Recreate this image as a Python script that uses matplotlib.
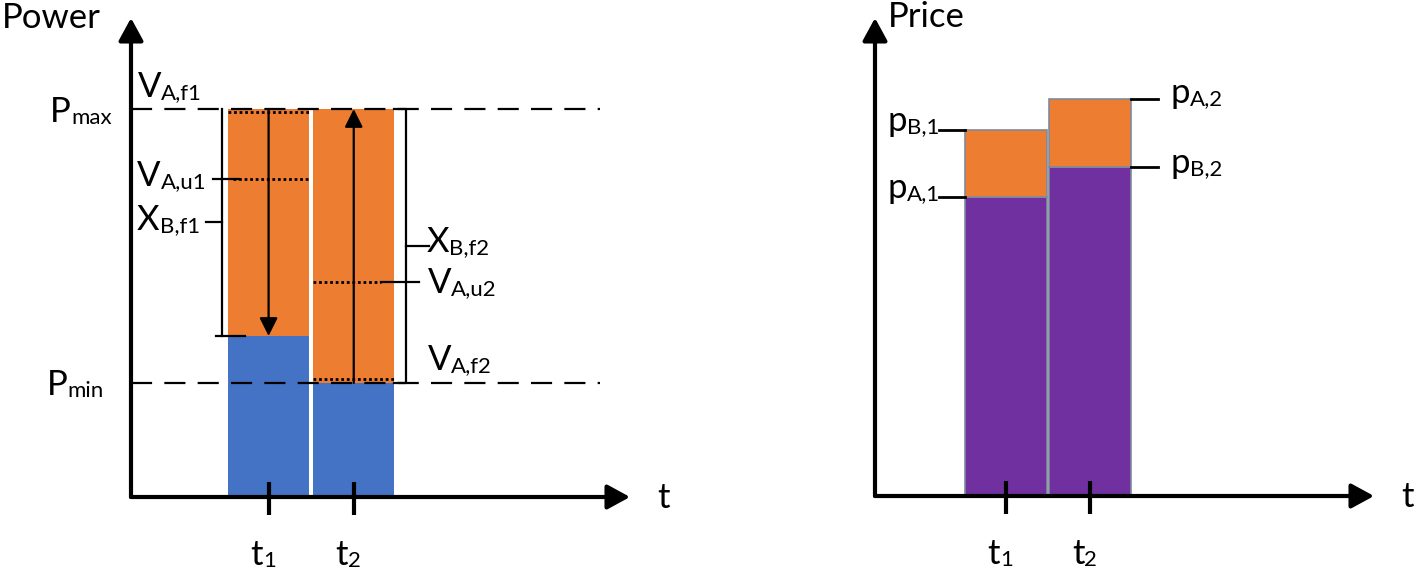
import matplotlib
matplotlib.use("Agg")
import matplotlib.pyplot as plt

plt.rcParams['font.family'] = ['Lato', 'DejaVu Sans']

# schematic values (power in % of Pmax, price on the same scale)
slots = ['1', '2']
power_t = [1.6, 2.59]
p_max = 100
p_min = 29.4
power_base = [41.5, 29.4]        # blue part (x_B level)
v_up = [82, 55.4]                # V_A,u dotted levels
v_f = [99.2, 30.4]               # V_A,f dotted levels
price_t = [1.52, 2.5]
price_B = [77.1, 84.8]           # purple top
price_top = [94.3, 102.3]        # orange top

W, H = 1418, 570
UX, UY = 86.0, 3.88   # px per data unit
BLUE, ORANGE, PURPLE = '#4472C4', '#ED7D31', '#7030A0'
FS = 25
bw = 0.94

fig = plt.figure(figsize=(W / 100, H / 100), dpi=100)


def make_axes(x0, y0, x1, y1):
    ax = fig.add_axes([x0 / W, 1 - y0 / H, (x1 - x0) / W, (y0 - y1) / H])
    ax.set_xlim(0, (x1 - x0) / UX)
    ax.set_ylim(0, (y0 - y1) / UY)
    ax.axis('off')
    xm, ym = ax.get_xlim()[1], ax.get_ylim()[1]
    for tip in [(xm, 0), (0, ym)]:
        ax.annotate('', xy=tip, xytext=(0, 0), annotation_clip=False,
                    arrowprops=dict(arrowstyle='-|>,head_length=0.55,head_width=0.3',
                                    lw=3, color='black', mutation_scale=25,
                                    shrinkA=0, shrinkB=0))
    return ax


def label(ax, x, y, main, subtxt, fs=FS):
    # main letter plus a smaller subscript sitting on the same baseline
    t = ax.text(x, y, main, fontsize=fs, ha='left', va='baseline', clip_on=False)
    ax.annotate(subtxt, xy=(1, 0), xycoords=t, fontsize=fs * 0.64,
                ha='left', va='bottom', annotation_clip=False)


def ticks_and_labels(ax, xs):
    for x, s in zip(xs, slots):
        ax.plot([x, x], [3.9, -4.6], color='black', lw=3, clip_on=False,
                solid_capstyle='butt')
        label(ax, x - 0.21, -17.5, 't', s)
    ax.text(ax.get_xlim()[1] + 0.32, -2.8, 't', fontsize=FS, ha='left', va='baseline')


# ---------------- left: power ----------------
ax = make_axes(131, 497, 630, 18)
ax.bar(power_t, power_base, width=bw, color=BLUE, edgecolor='none', zorder=1)
ax.bar(power_t, [p_max - b for b in power_base], bottom=power_base, width=bw,
       color=ORANGE, edgecolor='none', zorder=1)

dash_end = 5.45
for lev in [p_max, p_min]:
    ax.plot([0, dash_end], [lev, lev], color='black', lw=1.6,
            linestyle=(0, (9.5, 5.5)), zorder=3, clip_on=False)

l1, r1 = power_t[0] - bw / 2, power_t[0] + bw / 2
l2, r2 = power_t[1] - bw / 2, power_t[1] + bw / 2

# dotted levels
dots = dict(color='black', lw=2, linestyle=(0, (1, 1)), zorder=4)
ax.plot([l1, r1], [v_f[0], v_f[0]], **dots)
ax.plot([l2, r2], [v_f[1], v_f[1]], **dots)
ax.plot([l1 + 0.06, r1], [v_up[0], v_up[0]], **dots)
ax.plot([l2, r2 - 0.15], [v_up[1], v_up[1]], **dots)

# brackets
bl = l1 - 0.07
ax.plot([bl, bl], [p_max, power_base[0]], color='black', lw=1.6, zorder=4)
ax.plot([bl - 0.07, l1 + 0.19], [power_base[0], power_base[0]], color='black', lw=1.6, zorder=4)
ax.plot([bl - 0.11, bl + 0.2], [v_up[0], v_up[0]], color='black', lw=1.6, zorder=4)
mid1 = (p_max + power_base[0]) / 2
ax.plot([bl - 0.19, bl], [mid1, mid1], color='black', lw=1.6, zorder=4)

br = r2 + 0.14
ax.plot([r2, br, br, r2], [p_max, p_max, p_min, p_min], color='black', lw=1.6, zorder=4)
mid2 = (p_max + p_min) / 2
ax.plot([br, br + 0.26], [mid2, mid2], color='black', lw=1.6, zorder=4)
ax.plot([r2 - 0.15, br + 0.15], [v_up[1], v_up[1]], color='black', lw=1.6, zorder=4)

# arrows within bars
arr = dict(arrowstyle='-|>,head_length=0.5,head_width=0.25', lw=1.6, color='black',
           mutation_scale=22, shrinkA=0, shrinkB=0)
ax.annotate('', xy=(power_t[0], power_base[0]), xytext=(power_t[0], p_max), arrowprops=arr)
ax.annotate('', xy=(power_t[1], p_max), xytext=(power_t[1], p_min), arrowprops=arr)

ax.text(-1.5, 120.9, 'Power', fontsize=FS, ha='left', va='baseline', clip_on=False)
label(ax, -0.94, 96.6, 'P', 'max')
label(ax, -0.98, 26.3, 'P', 'min')
label(ax, 0.08, 103.1, 'V', 'A,f1')
label(ax, 0.07, 80.2, 'V', 'A,u1')
label(ax, 0.07, 68.8, 'X', 'B,f1')
label(ax, 3.44, 63.1, 'X', 'B,f2')
label(ax, 3.45, 52.6, 'V', 'A,u2')
label(ax, 3.45, 32.7, 'V', 'A,f2')
ticks_and_labels(ax, power_t)

# ---------------- right: price ----------------
ax2 = make_axes(875, 496, 1374, 18)
ax2.bar(price_t, price_B, width=0.95, color=PURPLE, edgecolor='#7f8a9c', lw=1.2, zorder=1)
ax2.bar(price_t, [t - b for t, b in zip(price_top, price_B)], bottom=price_B, width=0.95,
        color=ORANGE, edgecolor='#7f8a9c', lw=1.2, zorder=1)

pl1 = price_t[0] - 0.475
pr2 = price_t[1] + 0.475
for lev in [price_top[0], price_B[0]]:
    ax2.plot([pl1 - 0.3, pl1], [lev, lev], color='black', lw=2, zorder=3)
for lev in [price_top[1], price_B[1]]:
    ax2.plot([pr2, pr2 + 0.32], [lev, lev], color='black', lw=2, zorder=3)

ax2.text(0.15, 120.9, 'Price', fontsize=FS, ha='left', va='baseline', clip_on=False)
label(ax2, 0.14, price_top[0] - 0.2, 'p', 'B,1')
label(ax2, 0.14, price_B[0] - 0.3, 'p', 'A,1')
label(ax2, pr2 + 0.46, price_top[1] - 1.0, 'p', 'A,2')
label(ax2, pr2 + 0.46, price_B[1] - 1.6, 'p', 'B,2')
ticks_and_labels(ax2, price_t)

fig.savefig('out.png', dpi=100, facecolor='white')
